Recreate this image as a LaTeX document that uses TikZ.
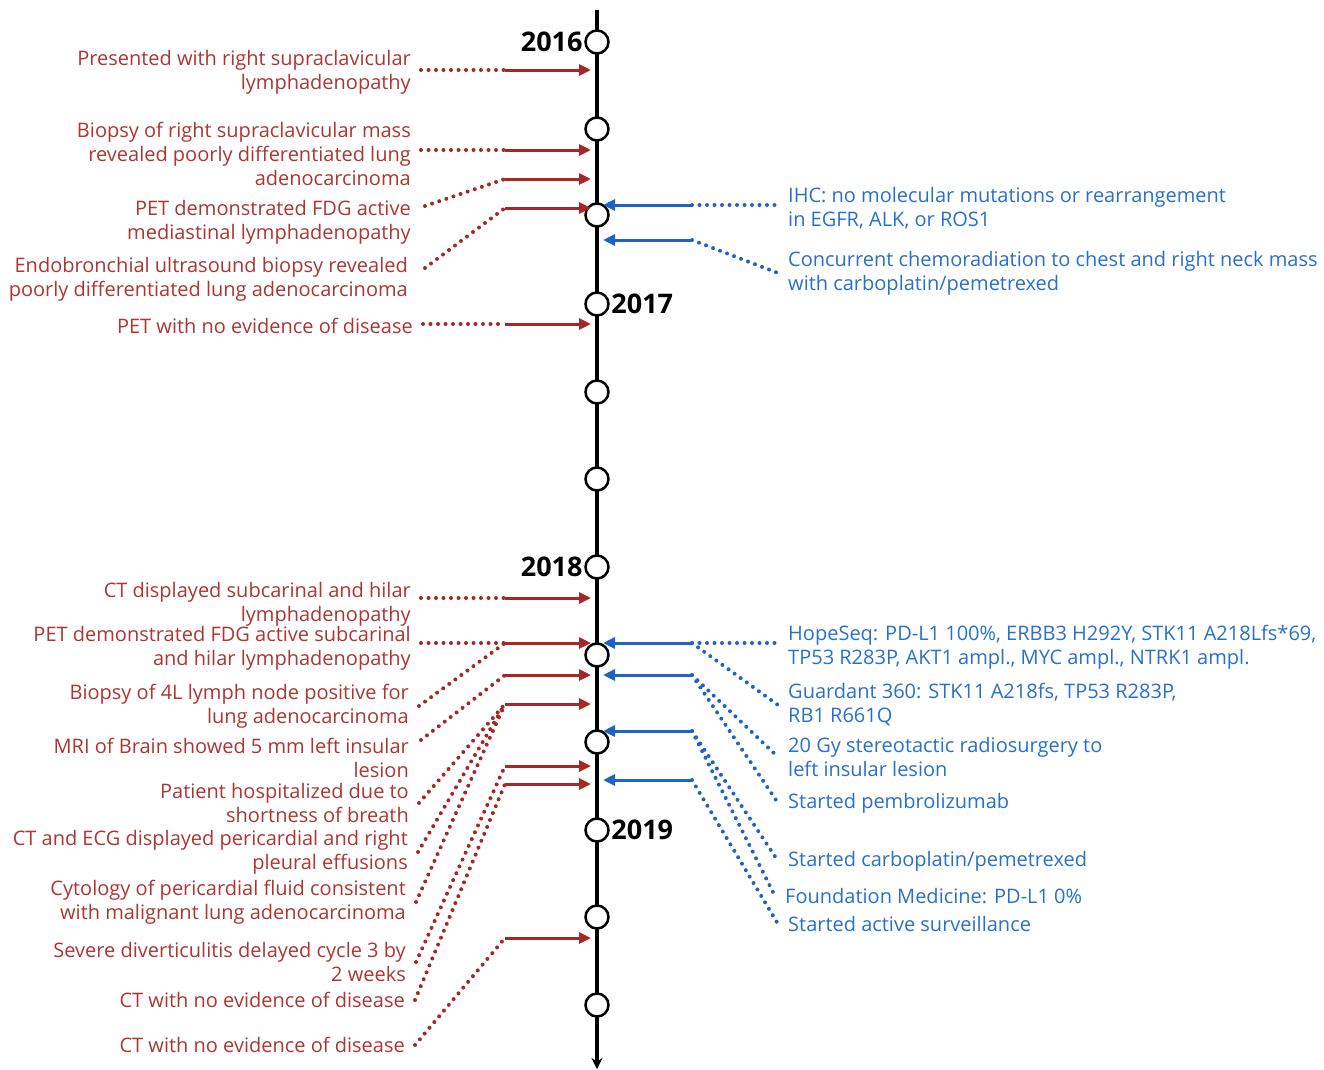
\documentclass[tikz,border=0pt]{standalone}
\usepackage{fontspec}
\setmainfont{Open Sans}
\usetikzlibrary{arrows.meta,calc}

\definecolor{evred}{RGB}{163,40,38}
\definecolor{evredtxt}{RGB}{172,54,50}
\definecolor{evblue}{RGB}{32,100,195}
\definecolor{evbluetxt}{RGB}{40,112,202}

\begin{document}
\begin{tikzpicture}[x=1pt,y=-1pt,
  tick/.style={circle,draw=black,fill=white,line width=2.5pt,minimum size=23pt,inner sep=0pt},
  yearlbl/.style={font=\fontsize{27}{30}\selectfont\bfseries,inner sep=1.5pt},
  lefttxt/.style={anchor=east,align=right,text=evredtxt,font=\fontsize{20}{24}\selectfont,inner xsep=10pt,inner ysep=0pt},
  righttxt/.style={anchor=west,align=left,text=evbluetxt,font=\fontsize{20}{24}\selectfont,inner xsep=10pt,inner ysep=0pt},
  redarr/.style={evred,line width=3pt,-{Triangle[length=12pt,width=11pt]}},
  bluearr/.style={evblue,line width=3pt,-{Triangle[length=12pt,width=11pt]}},
  reddots/.style={evred,line width=4pt,line cap=round,dash pattern=on 0pt off 7.5pt},
  bluedots/.style={evblue,line width=4pt,line cap=round,dash pattern=on 0pt off 7.5pt}]
\useasboundingbox (0,0) rectangle (1324,1069);

% time axis
\coordinate (axtop) at (597,10);
\coordinate (axend) at (597,1069);
\draw[line width=3.2pt,-{Stealth[length=11pt,width=11pt]}] (axtop) -- (axend);
\foreach \y [count=\i] in {42,129,215,304,392,479,567,655,742,830,917,1005}
  \node[tick] (c\i) at (597,\y) {};

\node[yearlbl,anchor=east] (y2016) at (c1.west) {2016};
\node[yearlbl,anchor=west] (y2017) at (c4.east) {2017};
\node[yearlbl,anchor=east] (y2018) at (c7.west) {2018};
\node[yearlbl,anchor=west] (y2019) at (c10.east) {2019};

% arrows onto the axis
\foreach \y [count=\i] in {70,150,179,208,324,598,643,675,704,766,784,938} {
  \coordinate (ra\i) at (505,\y);
  \coordinate (rb\i) at (591,\y);
  \draw[redarr] (ra\i) -- (rb\i);
}
\foreach \y [count=\i] in {205,240,643,675,731,780} {
  \coordinate (ba\i) at (692,\y);
  \coordinate (bb\i) at (603,\y);
  \draw[bluearr] (ba\i) -- (bb\i);
}

% left events
\node[lefttxt] (l1) at (421,72) {Presented with right supraclavicular\\lymphadenopathy};
\node[lefttxt] (l2) at (421,154) {Biopsy of right supraclavicular mass\\revealed poorly differentiated lung\\adenocarcinoma};
\node[lefttxt] (l3) at (421,222) {PET demonstrated FDG active\\mediastinal lymphadenopathy};
\node[lefttxt] (l4) at (418,279) {Endobronchial ultrasound biopsy revealed\\poorly differentiated lung adenocarcinoma};
\node[lefttxt] (l5) at (423,326) {PET with no evidence of disease};
\node[lefttxt] (l6) at (421,604) {CT displayed subcarinal and hilar\\lymphadenopathy};
\node[lefttxt] (l7) at (421,648) {PET demonstrated FDG active subcarinal\\and hilar lymphadenopathy};
\node[lefttxt] (l8) at (419,706) {Biopsy of 4L lymph node positive for\\lung adenocarcinoma};
\node[lefttxt] (l9) at (419,758) {MRI of Brain showed 5 mm left insular\\lesion};
\node[lefttxt] (l10) at (419,803) {Patient hospitalized due to\\shortness of breath};
\node[lefttxt] (l11) at (418,852) {CT and ECG displayed pericardial and right\\pleural effusions};
\node[lefttxt] (l12) at (416,902) {Cytology of pericardial fluid consistent\\with malignant lung adenocarcinoma};
\node[lefttxt] (l13) at (416,962) {Severe diverticulitis delayed cycle 3 by\\2 weeks};
\node[lefttxt] (l14) at (415,1000) {CT with no evidence of disease};
\node[lefttxt] (l15) at (415,1045) {CT with no evidence of disease};

% right events
\node[righttxt] (r1) at (778,208) {IHC: no molecular mutations or rearrangement\\in EGFR, ALK, or ROS1};
\node[righttxt] (r2) at (778,273) {Concurrent chemoradiation to chest and right neck mass\\with carboplatin/pemetrexed};
\node[righttxt] (r3) at (778,647) {HopeSeq: PD-L1 100\%, ERBB3 H292Y, STK11 A218Lfs*69,\\TP53 R283P, AKT1 ampl., MYC ampl., NTRK1 ampl.};
\node[righttxt] (r4) at (778,705) {Guardant 360: STK11 A218fs, TP53 R283P,\\RB1 R661Q};
\node[righttxt] (r5) at (778,757) {20 Gy stereotactic radiosurgery to\\left insular lesion};
\node[righttxt] (r6) at (778,803) {Started pembrolizumab};
\node[righttxt] (r7) at (778,861) {Started carboplatin/pemetrexed};
\node[righttxt] (r8) at (775,896) {Foundation Medicine: PD-L1 0\%};
\node[righttxt] (r9) at (778,924) {Started active surveillance};

% dotted leaders, left
\draw[reddots] (l1.east |- ra1) -- (ra1);
\draw[reddots] (l2.east |- ra2) -- (ra2);
\draw[reddots] ($(l3.east)+(4,-16)$) -- (ra3);
\draw[reddots] ($(l4.east)+(7,-11)$) -- (ra4);
\draw[reddots] (l5.east |- ra5) -- (ra5);
\draw[reddots] (l6.east |- ra6) -- (ra6);
\draw[reddots] (l7.east |- ra7) -- (ra7);
\draw[reddots] (l8.east) -- (ra7);
\draw[reddots] ($(l9.east)+(2,-18)$) -- (ra8);
\draw[reddots] (l10.east) -- (ra9);
\draw[reddots] (l11.east) -- (ra9);
\draw[reddots] (l12.east) -- (ra9);
\draw[reddots] (l13.east) -- (ra10);
\draw[reddots] (l14.east) -- (ra11);
\draw[reddots] (l15.east) -- (ra12);

% dotted leaders, right
\draw[bluedots] (ba1) -- (r1.west |- ba1);
\draw[bluedots] (ba2) -- (r2.west);
\draw[bluedots] (ba3) -- (r3.west |- ba3);
\draw[bluedots] (ba3) -- (r4.west);
\draw[bluedots] (ba4) -- (r5.west);
\draw[bluedots] (ba4) -- (r6.west);
\draw[bluedots] (ba5) -- (r7.west);
\draw[bluedots] (ba5) -- (r8.west);
\draw[bluedots] (ba6) -- (r9.west);
\end{tikzpicture}
\end{document}
